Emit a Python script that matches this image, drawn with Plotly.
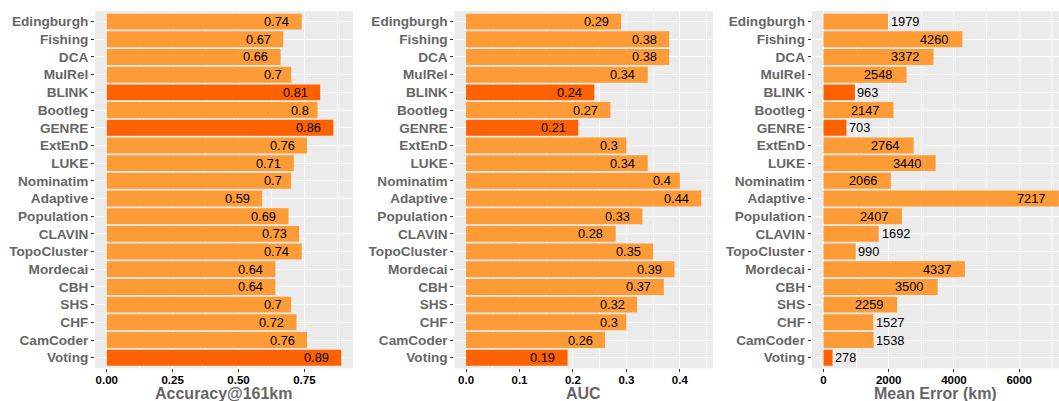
import plotly.graph_objects as go

# Toponym resolution methods, top to bottom
methods = ["Edingburgh", "Fishing", "DCA", "MulRel", "BLINK", "Bootleg", "GENRE",
           "ExtEnD", "LUKE", "Nominatim", "Adaptive", "Population", "CLAVIN",
           "TopoCluster", "Mordecai", "CBH", "SHS", "CHF", "CamCoder", "Voting"]

accuracy_161km = [0.74, 0.67, 0.66, 0.70, 0.81, 0.80, 0.86, 0.76, 0.71, 0.70,
                  0.59, 0.69, 0.73, 0.74, 0.64, 0.64, 0.70, 0.72, 0.76, 0.89]
auc = [0.29, 0.38, 0.38, 0.34, 0.24, 0.27, 0.21, 0.30, 0.34, 0.40,
       0.44, 0.33, 0.28, 0.35, 0.39, 0.37, 0.32, 0.30, 0.26, 0.19]
mean_error_km = [1979, 4260, 3372, 2548, 963, 2147, 703, 2764, 3440, 2066,
                 7217, 2407, 1692, 990, 4337, 3500, 2259, 1527, 1538, 278]

highlighted = ["BLINK", "GENRE", "Voting"]

acc_ticks = [0, 0.25, 0.5, 0.75]
acc_ticklabels = ["0.00", "0.25", "0.50", "0.75"]
auc_ticks = [0, 0.1, 0.2, 0.3, 0.4]
auc_ticklabels = ["0.0", "0.1", "0.2", "0.3", "0.4"]
err_ticks = [0, 2000, 4000, 6000]
err_ticklabels = ["0", "2000", "4000", "6000"]

LIGHT = "#FD9B37"
DARK = "#FE6100"
PANEL_BG = "#EBEBEB"
LABEL_GREY = "#666666"
FONT = "Liberation Sans, Arial, Helvetica, sans-serif"
VALUE_SIZE = 12.8

W, H = 1059, 401
colors = [DARK if m in highlighted else LIGHT for m in methods]


def fmt(v):
    return f"{v:g}"


def text_width(s, size):
    # approximate advance widths of Arial/Liberation Sans regular
    w = 0.0
    for ch in s:
        w += 0.278 if ch == "." else 0.556
    return w * size


panels = [
    dict(values=accuracy_161km, title="Accuracy@161km", ticks=acc_ticks,
         ticklabels=acc_ticklabels, minor=[0.125, 0.375, 0.625, 0.875],
         px=(95, 353), outside_below=None),
    dict(values=auc, title="AUC", ticks=auc_ticks, ticklabels=auc_ticklabels,
         minor=[0.05, 0.15, 0.25, 0.35, 0.45], px=(454.3, 713), outside_below=None),
    dict(values=mean_error_km, title="Mean Error (km)", ticks=err_ticks,
         ticklabels=err_ticklabels, minor=[1000, 3000, 5000, 7000],
         px=(811.7, 1059), outside_below=2000),
]

fig = go.Figure()
annotations = []
y_dom = [(H - 368.3) / H, (H - 11) / H]
n = len(methods)

for i, p in enumerate(panels):
    k = "" if i == 0 else str(i + 1)
    xa, ya = "x" + k, "y" + k
    vals = p["values"]
    vmax = max(vals)
    fig.add_trace(go.Bar(
        x=vals, y=methods, orientation="h", width=0.9,
        marker=dict(color=colors, line=dict(width=0)),
        xaxis=xa, yaxis=ya, showlegend=False,
        hovertemplate="%{y}: %{x}<extra></extra>",
    ))
    if i == 2:
        xrange = [-0.05 * vmax, vmax * 1.0005]
    else:
        xrange = [-0.05 * vmax, vmax * 1.05]
    fig.layout["xaxis" + k] = dict(
        domain=[p["px"][0] / W, p["px"][1] / W], anchor=ya, range=xrange,
        tickvals=p["ticks"], ticktext=p["ticklabels"],
        ticks="outside", ticklen=3, tickwidth=1, tickcolor="#333333",
        ticklabelstandoff=-2,
        tickfont=dict(family=FONT, size=11.5, color="#000000", weight="bold"),
        showgrid=True, gridcolor="white", gridwidth=1.1,
        minor=dict(tickvals=p["minor"], showgrid=True, gridcolor="white",
                   gridwidth=0.55, ticks=""),
        zeroline=False, showline=False, fixedrange=True,
    )
    fig.layout["yaxis" + k] = dict(
        domain=y_dom, anchor=xa, type="category",
        categoryorder="array", categoryarray=methods,
        range=[n - 1 + 0.6, -0.6],
        ticks="outside", ticklen=3, tickwidth=1, tickcolor="#333333",
        tickfont=dict(family=FONT, size=13.6, color=LABEL_GREY, weight="bold"),
        showgrid=True, gridcolor="white", gridwidth=1.1,
        zeroline=False, showline=False, fixedrange=True,
    )
    # value labels: inside the bar end, or just past it for short bars
    for m, v in zip(methods, vals):
        s = fmt(v)
        w = text_width(s, VALUE_SIZE)
        outside = p["outside_below"] is not None and v < p["outside_below"]
        annotations.append(dict(
            x=v, y=m, xref=xa, yref=ya, text=s, showarrow=False,
            xanchor="left" if outside else "right",
            xshift=0.1 * w if outside else -0.5 * w,
            yanchor="middle", borderpad=0, borderwidth=0,
            font=dict(family=FONT, size=VALUE_SIZE, color="#000000"),
        ))
    # axis title
    annotations.append(dict(
        x=0.5, xref=xa + " domain", y=(H - 393.5) / H, yref="paper",
        text=p["title"], showarrow=False, xanchor="center", yanchor="middle",
        borderpad=0, borderwidth=0,
        font=dict(family=FONT, size=16, color=LABEL_GREY, weight="bold"),
    ))

fig.update_layout(
    width=W, height=H,
    margin=dict(l=0, r=0, t=0, b=0),
    paper_bgcolor="white", plot_bgcolor=PANEL_BG,
    bargap=0.1, annotations=annotations,
    font=dict(family=FONT),
)

fig.write_html("out.html")
